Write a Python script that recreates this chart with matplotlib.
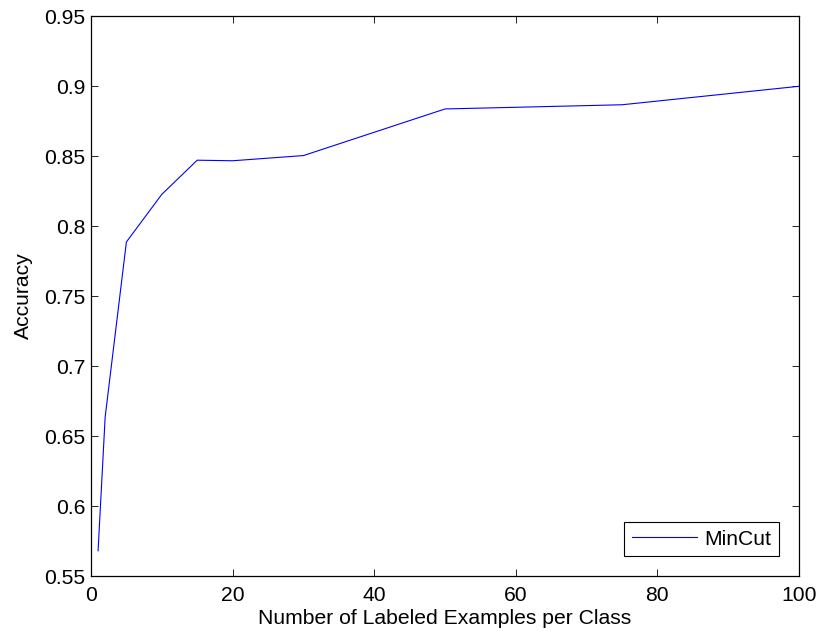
import matplotlib.pyplot as plt
import numpy as np

plt.rcParams['font.family'] = ['Liberation Sans', 'DejaVu Sans']

n_labeled = [1, 2, 5, 10, 15, 20, 30, 50, 75, 100]
accuracy = [0.568, 0.6636, 0.7886, 0.8226, 0.847, 0.8466, 0.8503, 0.8836, 0.8866, 0.8998]

yticks = [0.55, 0.6, 0.65, 0.7, 0.75, 0.8, 0.85, 0.9, 0.95]
yticklabels = ['0.55', '0.6', '0.65', '0.7', '0.75', '0.8', '0.85', '0.9', '0.95']
xticks = [0, 20, 40, 60, 80, 100]

fs = 15.2

fig = plt.figure(figsize=(8.21, 6.32), dpi=100)
ax = fig.add_axes([91/821, 56/632, 708/821, 560/632])

ax.plot(n_labeled, accuracy, color=(0, 0, 1), lw=0.8, label='MinCut')

ax.set_xlim(0, 100)
ax.set_ylim(0.55, 0.95)
ax.set_xticks(xticks)
ax.set_yticks(yticks)
ax.set_yticklabels(yticklabels)
ax.tick_params(direction='in', top=True, right=True, length=5, width=0.6,
               labelsize=fs)
ax.tick_params(axis='y', pad=4)
ax.tick_params(axis='x', pad=7)
for s in ax.spines.values():
    s.set_linewidth(0.9)

ax.set_xlabel('Number of Labeled Examples per Class', fontsize=fs, labelpad=3)
ax.set_ylabel('Accuracy', fontsize=fs, labelpad=8)

leg = ax.legend(loc='lower right', fancybox=False, edgecolor='black',
                fontsize=fs, handlelength=3.1, borderaxespad=0.95,
                framealpha=1, borderpad=0.35, handletextpad=0.35)
leg.get_frame().set_linewidth(0.8)

fig.savefig('out.png', dpi=100)
